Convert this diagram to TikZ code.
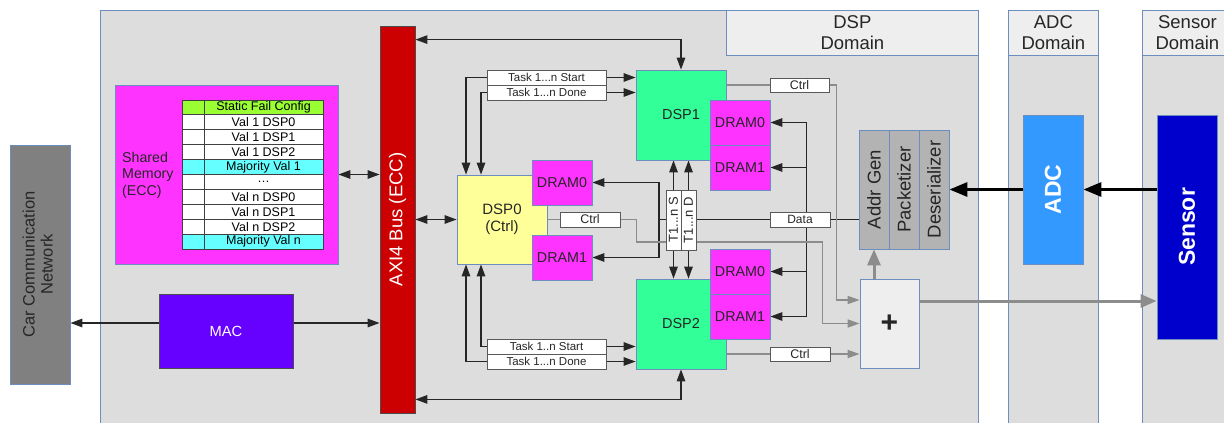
\documentclass[tikz,border=0pt]{standalone}
\usepackage{fontspec}
\setmainfont{Liberation Sans}
\usepackage{graphicx}
\usetikzlibrary{arrows.meta,calc}
\definecolor{panel}{HTML}{DDDDDD}
\definecolor{bord}{HTML}{6C8EBF}
\definecolor{head}{HTML}{EEEEEE}
\definecolor{memc}{HTML}{FF33FF}
\definecolor{cfgc}{HTML}{99FF33}
\definecolor{majc}{HTML}{66FFFF}
\definecolor{macc}{HTML}{6600FF}
\definecolor{axic}{HTML}{CC0000}
\definecolor{ctrlc}{HTML}{FFFF99}
\definecolor{dspc}{HTML}{33FF99}
\definecolor{stagec}{HTML}{B3B3B3}
\definecolor{adcc}{HTML}{3399FF}
\definecolor{senc}{HTML}{0000CC}
\definecolor{carc}{HTML}{808080}
\definecolor{wirec}{HTML}{8C8C8C}
\newcommand{\fsz}[2]{\fontsize{#1}{#2}\selectfont}
\pgfdeclarelayer{back}
\pgfdeclarelayer{wires}
\pgfsetlayers{back,wires,main}

\begin{document}
\begin{tikzpicture}[x=1pt,y=-1pt,
 blk/.style={draw=bord,line width=0.8pt,inner sep=0pt,align=center,text=black!85},
 dom/.style={blk,fill=panel,anchor=north west},
 hdr/.style={blk,fill=head,anchor=north west,font=\fsz{18.5}{21}},
 dram/.style={blk,fill=memc,minimum width=60pt,minimum height=45pt,font=\fsz{14.3}{16}},
 dsp/.style={blk,fill=dspc,minimum width=90pt,minimum height=90pt,font=\fsz{14.5}{16}},
 stg/.style={blk,fill=stagec,minimum width=30pt,minimum height=119pt,font=\fsz{18.5}{20}},
 cell/.style={draw=black!75,line width=0.9pt,inner sep=0pt,minimum height=14.9pt,font=\fsz{12.5}{13}},
 lab/.style={draw=black!65,line width=0.9pt,fill=white,inner sep=0pt,minimum height=15pt,text=black!85},
 ar/.style={-{Triangle[length=12pt,width=8.5pt]},line width=1.3pt,black!85},
 arr/.style={{Triangle[length=12pt,width=8.5pt]}-{Triangle[length=12pt,width=8.5pt]},line width=1.3pt,black!85},
 gar/.style={-{Triangle[length=12pt,width=8pt]},line width=1.6pt,wirec},
 gfat/.style={-{Triangle[length=16pt,width=13pt]},line width=3pt,wirec},
 fat/.style={-{Triangle[length=18pt,width=14pt]},line width=3pt,black}]
\useasboundingbox (0,0) rectangle (1224,423);

% domains
\begin{pgfonlayer}{back}
\node[dom,minimum width=878pt,minimum height=430pt] (dspdom) at (100,10) {};
\node[hdr,minimum width=252pt,minimum height=45pt] (dsphdr) at (726,10) {DSP\\Domain};
\node[dom,minimum width=90pt,minimum height=430pt] (adcdom) at (1008,10) {};
\node[hdr,minimum width=90pt,minimum height=45pt] (adchdr) at (1008,10) {ADC\\Domain};
\node[dom,minimum width=100pt,minimum height=430pt] (sendom) at (1142,10) {};
\node[hdr,minimum width=90pt,minimum height=45pt] (senhdr) at (1142,10) {Sensor\\Domain};
\end{pgfonlayer}

\node[blk,fill=carc,minimum width=60pt,minimum height=239pt,font=\fsz{16.5}{18}] (car) at (40,264.5)
 {\rotatebox{90}{\begin{tabular}{@{}c@{}}Car Communication\\Network\end{tabular}}};

% shared memory
\node[blk,fill=memc,minimum width=223pt,minimum height=179pt] (shm) at (226.5,174.5) {};
\node[anchor=west,align=left,inner sep=0pt,font=\fsz{14.2}{16.5},text=black!85] (shmtxt) at (122,175) {Shared\\Memory\\(ECC)};
\foreach \txt/\col [count=\i] in {Static Fail Config/cfgc,Val 1 DSP0/white,Val 1 DSP1/white,Val 1 DSP2/white,
 Majority Val 1/majc,\dots/white,Val n DSP0/white,Val n DSP1/white,Val n DSP2/white,Majority Val n/majc} {
 \node[cell,fill=\col,minimum width=22pt] (key\i) at (193,{107.45+(\i-1)*14.9}) {};
 \node[cell,fill=\col,minimum width=119pt] (val\i) at (263.5,{107.45+(\i-1)*14.9}) {\txt};
}

\node[blk,draw=black!70,fill=macc,minimum width=134pt,minimum height=74pt,text=white,font=\fsz{14.7}{16}] (mac) at (226,331) {MAC};
\node[blk,draw=black!70,fill=axic,minimum width=35pt,minimum height=387pt,text=white,font=\fsz{18.5}{20}] (axi) at (397.5,219.5)
 {\rotatebox{90}{AXI4 Bus (ECC)}};

% DSP cores
\node[blk,fill=ctrlc,minimum width=90pt,minimum height=89pt,font=\fsz{15}{17}] (dsp0) at (502,219.5) {DSP0\\(Ctrl)};
\node[dram] (d0a) at (562,182.5) {DRAM0};
\node[dram] (d0b) at (562,257.5) {DRAM1};
\node[dsp] (dsp1) at (681,115) {DSP1};
\node[dram] (d1a) at (740,122.5) {DRAM0};
\node[dram] (d1b) at (740,167.5) {DRAM1};
\node[dsp] (dsp2) at (681,324) {DSP2};
\node[dram] (d2a) at (740,271.5) {DRAM0};
\node[dram] (d2b) at (740,316.5) {DRAM1};

% labels on the links
\node[lab,minimum width=119pt,font=\fsz{11.5}{12}] (tks1) at (546.5,77.5) {Task 1...n Start};
\node[lab,minimum width=119pt,font=\fsz{11.5}{12}] (tkd1) at (546.5,92.5) {Task 1...n Done};
\node[lab,minimum width=119pt,font=\fsz{11.5}{12}] (tks2) at (546.5,346.5) {Task 1..n Start};
\node[lab,minimum width=119pt,font=\fsz{11.5}{12}] (tkd2) at (546.5,361.5) {Task 1...n Done};
\node[lab,minimum width=15pt,minimum height=60pt,font=\fsz{13}{14}] (ts) at (673.5,220) {\rotatebox{90}{T1...n S}};
\node[lab,minimum width=15pt,minimum height=60pt,font=\fsz{13}{14}] (td) at (688.5,220) {\rotatebox{90}{T1...n D}};
\node[lab,minimum width=59pt,minimum height=14pt,font=\fsz{12.5}{13}] (c1) at (799.5,85) {Ctrl};
\node[lab,minimum width=60pt,font=\fsz{12.5}{13}] (c0) at (590,219.5) {Ctrl};
\node[lab,minimum width=60pt,minimum height=14pt,font=\fsz{12.5}{13}] (c2) at (800,354) {Ctrl};
\node[lab,minimum width=60pt,font=\fsz{12}{13}] (dat) at (800,219.5) {Data};

% front end
\node[stg] (addr) at (874,189.5) {\rotatebox{90}{Addr Gen}};
\node[stg] (pack) at (904,189.5) {\rotatebox{90}{Packetizer}};
\node[stg] (deser) at (934,189.5) {\rotatebox{90}{Deserializer}};
\node[blk,fill=head,minimum width=59pt,minimum height=89pt,font=\fsz{30}{30}\bfseries] (plus) at (889.5,323.5) {+};
\node[blk,fill=adcc,minimum width=60pt,minimum height=149pt,text=white,font=\fsz{23}{24}\bfseries] (adc) at (1053,189.5) {\rotatebox{90}{ADC}};
\node[blk,fill=senc,minimum width=60pt,minimum height=224pt,text=white,font=\fsz{23}{24}\bfseries] (sensor) at (1187,227) {\rotatebox{90}{Sensor}};

\begin{pgfonlayer}{wires}
\draw[arr] (shm.east) -- (shm.east -| axi.west);
\draw[ar] ([yshift=8pt]mac.west) -- ([yshift=8pt]mac.west -| car.east);
\draw[ar] ([yshift=8pt]mac.east) -- ([yshift=8pt]mac.east -| axi.west);
\draw[arr] (axi.east |- dsp0.west) -- (dsp0.west);
\draw[arr] ([yshift=-14pt]axi.north east) -| (dsp1.north);
\draw[arr] ([yshift=14pt]axi.south east) -| (dsp2.south);
% task handshakes
\draw[arr] ([xshift=-36pt]dsp0.north) |- (tks1.east -| dsp1.west);
\draw[arr] ([xshift=-21pt]dsp0.north) |- (tkd1.east -| dsp1.west);
\draw[arr] ([xshift=-21pt]dsp0.south) |- (tks2.east -| dsp2.west);
\draw[arr] ([xshift=-36pt]dsp0.south) |- (tkd2.east -| dsp2.west);
\draw[arr] (dsp1.south -| ts) -- (dsp2.north -| ts);
\draw[arr] (dsp1.south -| td) -- (dsp2.north -| td);
% data to the DRAMs
\coordinate (dbr) at (659,219.5);
\coordinate (dbus) at (806.5,219.5);
\draw[line width=1.3pt,black!85] (addr.west |- dsp0) -- (dbr);
\draw[ar] (dbr) |- (d0a.east);
\draw[ar] (dbr) |- (d0b.east);
\foreach \m in {d1a,d1b,d2a,d2b} \draw[ar] (dbus) |- (\m.east);
% ctrl to the adder
\draw[gar] (dsp1.east |- c1) -| ([xshift=-23pt,yshift=23.5pt]plus.west) -- ([yshift=23.5pt]plus.west);
\draw[gar] (dsp0.east) -- ++(89,0) -- ++(0,22.5) -| ([xshift=-37pt]plus.west) -- (plus.west);
\draw[gar] (dsp2.east |- c2) -- (plus.west |- c2);
\draw[gfat] (plus.north -| addr) -- (addr.south);
\draw[gfat] ([yshift=22.5pt]plus.east) -- ([yshift=22.5pt]plus.east -| sensor.west);
% sample path
\draw[fat] (adc.west) -- (adc.west -| deser.east);
\draw[fat] (sensor.west |- adc) -- (adc.east);
\end{pgfonlayer}
\end{tikzpicture}
\end{document}
